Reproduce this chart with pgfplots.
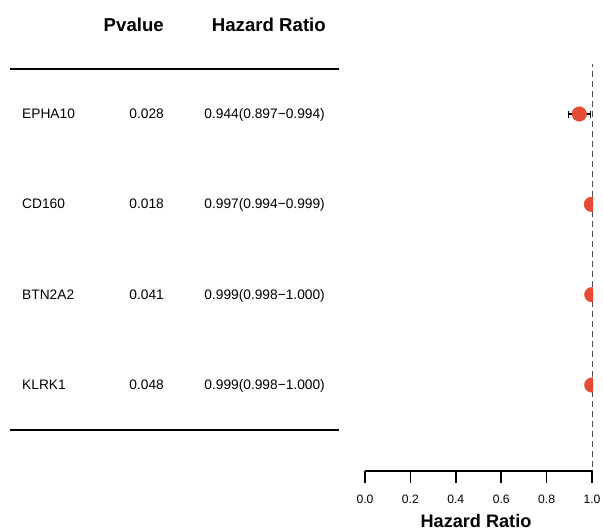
\documentclass[border=0pt]{standalone}
\usepackage{fontspec}
\setmainfont{Liberation Sans}
\usepackage{pgfplots}
\pgfplotsset{compat=1.18}
\definecolor{dotred}{HTML}{E64B35}
\begin{document}
\begin{tikzpicture}[x=1bp,y=1bp]
\path[use as bounding box] (0,0) rectangle (603,-531);
% table headers
\node[anchor=base east, inner sep=0, font=\fontsize{18.7}{20}\selectfont\bfseries] at (164,-31.5) {Pvalue};
\node[anchor=base east, inner sep=0, font=\fontsize{18.7}{20}\selectfont\bfseries] at (326,-31.5) {Hazard Ratio};
\draw[line width=1.6bp] (10,-69.3) -- (339,-69.3);
\draw[line width=1.6bp] (10,-430) -- (339,-430);
% rows
\begin{scope}[every node/.style={inner sep=0, font=\fontsize{13.8}{16}\selectfont}]
\node[anchor=base west] at (22,-118.5) {EPHA10};
\node[anchor=base east] at (164,-118.5) {0.028};
\node[anchor=base east] at (325,-118.5) {0.944(0.897−0.994)};
\node[anchor=base west] at (22,-208.8) {CD160};
\node[anchor=base east] at (164,-208.8) {0.018};
\node[anchor=base east] at (325,-208.8) {0.997(0.994−0.999)};
\node[anchor=base west] at (22,-299.2) {BTN2A2};
\node[anchor=base east] at (164,-299.2) {0.041};
\node[anchor=base east] at (325,-299.2) {0.999(0.998−1.000)};
\node[anchor=base west] at (22,-389.5) {KLRK1};
\node[anchor=base east] at (164,-389.5) {0.048};
\node[anchor=base east] at (325,-389.5) {0.999(0.998−1.000)};
\end{scope}
\begin{axis}[
  at={(365bp,-471bp)}, anchor=south west,
  scale only axis, width=228bp, height=409bp,
  xmin=0, xmax=1.0044, ymin=0.0479, ymax=4.5757,
  axis x line*=bottom, axis y line=none,
  clip mode=individual, clip marker paths=true,
  xtick={0,0.2,0.4,0.6,0.8,1},
  xticklabels={},
  tick align=outside, major tick length=12bp,
  x axis line style={line width=1.5bp, -},
  every tick/.style={black, line width=1.5bp},
]
\draw[black!70, line width=1bp, dash pattern=on 6bp off 4bp] (axis cs:1,0.092) -- (axis cs:1,4.553);
\addplot[forget plot, only marks, mark=none,
  error bars/.cd, x dir=both, x explicit, error mark=|,
  error bar style={black, line width=1.3bp},
  error mark options={black, mark size=3.5bp, line width=1.3bp}]
  coordinates {
  (0.944,4) += (0.050,0) -= (0.047,0)
  (0.997,3) += (0.002,0) -= (0.003,0)
  (0.999,2) += (0.001,0) -= (0.001,0)
  (0.999,1) += (0.001,0) -= (0.001,0)
  };
\addplot[only marks, mark=*, mark size=7.3bp, mark options={fill=dotred, draw=dotred}]
  coordinates {(0.944,4) (0.997,3) (0.999,2) (0.999,1)};
\end{axis}
% tick labels (x = 365 + 227 * value)
\begin{scope}[every node/.style={anchor=base, inner sep=0, font=\fontsize{12.2}{14}\selectfont}]
\node at (365,-503.4) {0.0};
\node at (410.4,-503.4) {0.2};
\node at (455.8,-503.4) {0.4};
\node at (501.2,-503.4) {0.6};
\node at (546.6,-503.4) {0.8};
\node at (592,-503.4) {1.0};
\end{scope}
\node[anchor=base, inner sep=0, font=\fontsize{18.2}{20}\selectfont\bfseries] at (476,-527.5) {Hazard Ratio};
\end{tikzpicture}
\end{document}
